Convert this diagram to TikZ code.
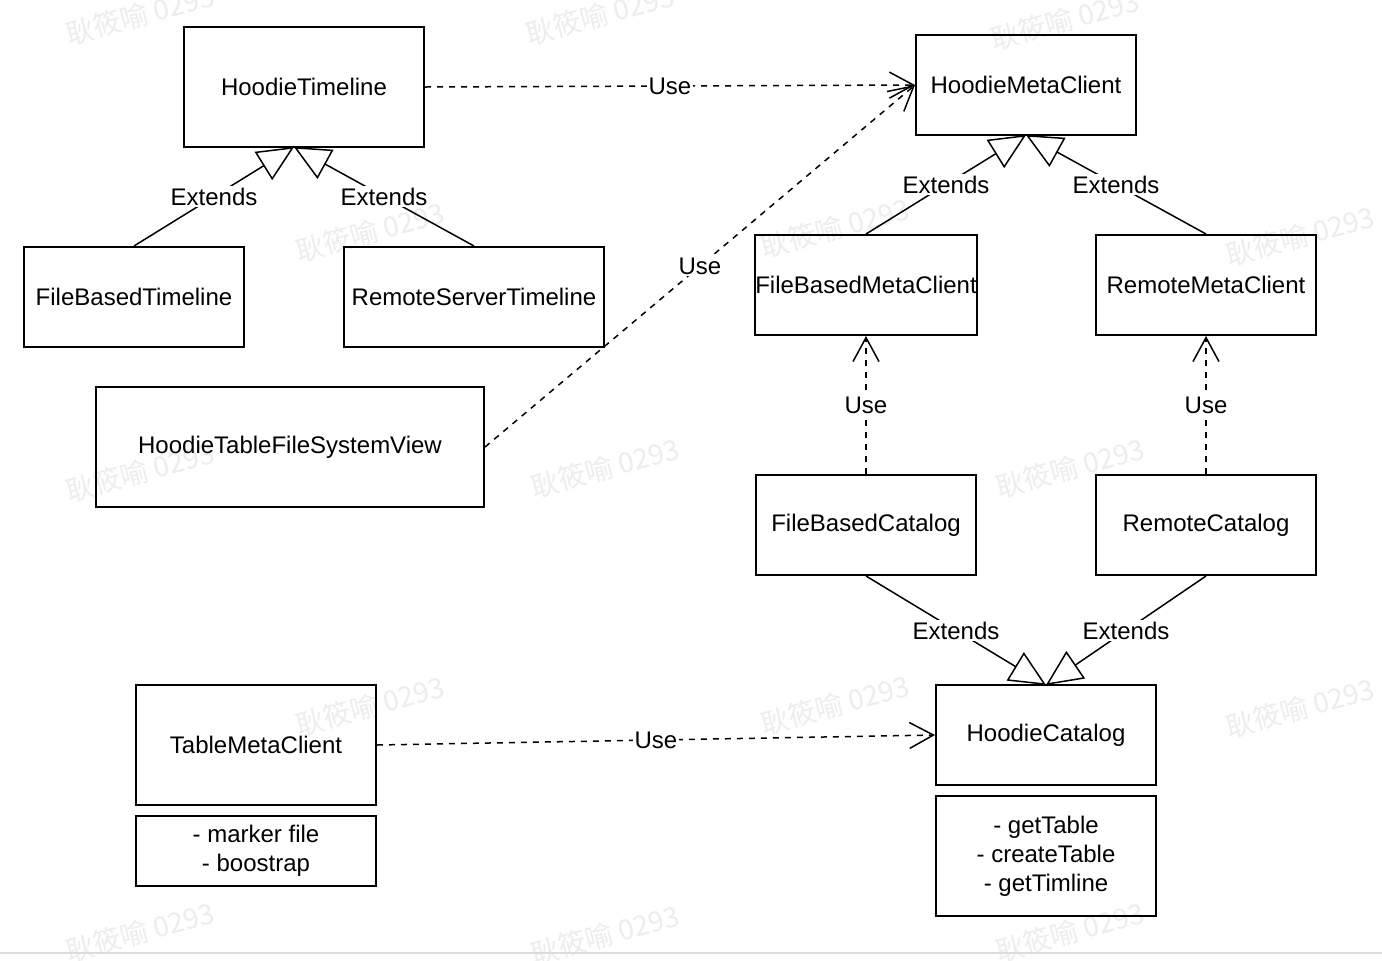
\documentclass[tikz,border=0pt]{standalone}
\usepackage{fontspec}
\setmainfont{Liberation Sans}
\newfontfamily\cjk{Noto Sans CJK SC}
\usetikzlibrary{arrows.meta}
\definecolor{wmark}{HTML}{EDEDED}
\definecolor{bline}{HTML}{DCDCE0}
\begin{document}
\begin{tikzpicture}[x=0.5pt,y=-0.5pt,
  box/.style={draw=black,line width=1pt,fill=none,minimum width=#1*0.5pt,inner sep=0pt,font=\fontsize{12}{14.5}\selectfont,align=center},
  lbl/.style={fill=white,inner sep=1pt,font=\fontsize{12}{14.5}\selectfont},
  usearrow/.style={line width=0.75pt,dash pattern=on 3pt off 3pt,-{Straight Barb[length=12pt,width=13pt,line width=0.75pt]}},
  extarrow/.style={line width=0.75pt,-{Triangle[open,length=18pt,width=16.5pt,line width=0.75pt]}},
  wm/.style={text=wmark,font=\cjk\fontsize{14}{14}\selectfont,rotate=15}]
\useasboundingbox (0,0) rectangle (1382,960);
\fill[white] (0,0) rectangle (1382,960);
% watermarks
\foreach \x/\y in {140/15,600/15,1065/20,370/232,835/228,1300/236,140/472,605/468,1070/468,370/706,835/705,1300/708,140/932,605/935,1070/932}
  \node[wm] at (\x,\y) {耿筱喻 0293};
\draw[bline,line width=1pt] (0,953) -- (1382,953);
% boxes
\node[box=240,minimum height=60pt] (ht) at (304,87) {HoodieTimeline};
\node[box=220,minimum height=50pt] (hmc) at (1026,85) {HoodieMetaClient};
\node[box=220,minimum height=50pt] (fbt) at (134,297) {FileBasedTimeline};
\node[box=260,minimum height=50pt] (rst) at (474,297) {RemoteServerTimeline};
\node[box=388,minimum height=60pt] (tfsv) at (290,447) {HoodieTableFileSystemView};
\node[box=220,minimum height=50pt] (fbmc) at (866,285) {FileBasedMetaClient};
\node[box=220,minimum height=50pt] (rmc) at (1206,285) {RemoteMetaClient};
\node[box=220,minimum height=50pt] (fbc) at (866,525) {FileBasedCatalog};
\node[box=220,minimum height=50pt] (rc) at (1206,525) {RemoteCatalog};
\node[box=220,minimum height=50pt] (hc) at (1046,735) {HoodieCatalog};
\node[box=220,minimum height=60pt] (hcm) at (1046,856) {- getTable\\- createTable\\- getTimline};
\node[box=240,minimum height=60pt] (tmc) at (256,745) {TableMetaClient};
\node[box=240,minimum height=35pt] (tmcm) at (256,851) {- marker file\\- boostrap};
% coordinates
\coordinate (htb) at (294,147);
\coordinate (hmcb) at (1026,135);
\coordinate (hct) at (1046,685);
% Use connectors
\draw[usearrow] (ht.east) -- node[lbl,pos=0.5] {Use} (hmc.west);
\draw[usearrow] (tfsv.east) -- node[lbl,pos=0.5] {Use} (hmc.west);
\draw[usearrow] (fbc.north) -- node[lbl] {Use} (fbmc.south);
\draw[usearrow] (rc.north) -- node[lbl] {Use} (rmc.south);
\draw[usearrow] (tmc.east) -- node[lbl,pos=0.5] {Use} (hc.west);
% Extends connectors
\draw[extarrow] (fbt.north) -- node[lbl] {Extends} (htb);
\draw[extarrow] (rst.north) -- node[lbl] {Extends} (htb);
\draw[extarrow] (fbmc.north) -- node[lbl] {Extends} (hmcb);
\draw[extarrow] (rmc.north) -- node[lbl] {Extends} (hmcb);
\draw[extarrow] (fbc.south) -- node[lbl] {Extends} (hct);
\draw[extarrow] (rc.south) -- node[lbl] {Extends} (hct);
\end{tikzpicture}
\end{document}
